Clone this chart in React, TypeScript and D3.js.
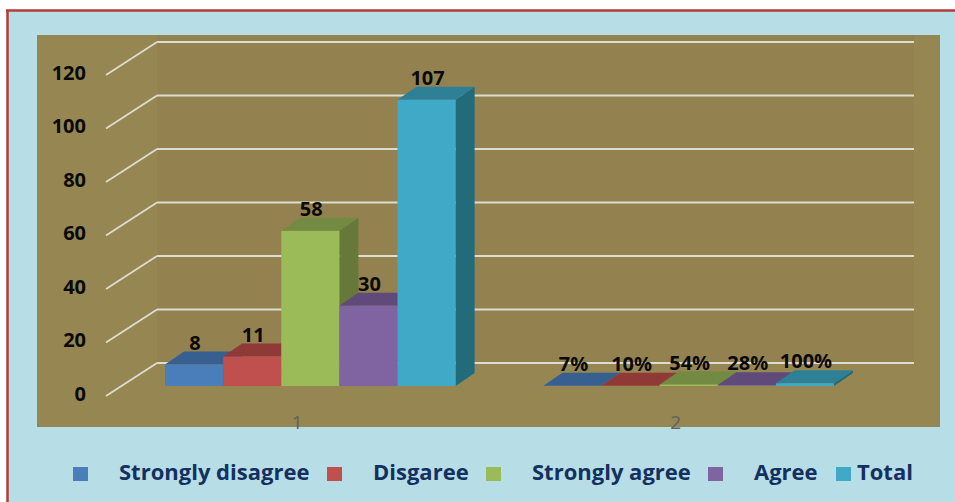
import React from "react";
import * as d3 from "d3";

const categories = ["1", "2"];
const seriesNames = ["Strongly disagree", "Disgaree", "Strongly agree", "Agree", "Total"];
const countValues = [8, 11, 58, 30, 107];
const percentValues = [7, 10, 54, 28, 100];
const yTicks = [0, 20, 40, 60, 80, 100, 120];

const frontColors = ["#4a7ebb", "#c0504d", "#9bbb59", "#8064a2", "#41a9c8"];
const topColors = ["#375f90", "#903a38", "#738a42", "#5f4a7a", "#2e8097"];
const sideColors = ["#335882", "#82342f", "#66793a", "#554270", "#226b7b"];

// percent group is plotted as fractions, that is why the bars are so flat
const groupValues = [countValues, percentValues.map((p) => p / 100)];
const groupLabels = [countValues.map(String), percentValues.map((p) => `${p}%`)];

// legend placed by hand, the gaps are uneven in the original
const legendSwatchX = [73, 327, 486, 708, 836];
const legendTextX = [119, 373, 532, 754, 857];

const depthX = 19;
const depthY = -13;

const App: React.FC = () => {
  const y = d3.scaleLinear().domain([0, 120]).range([386, 65]);
  const x0 = d3.scaleBand<string>().domain(categories).range([165, 834]).paddingInner(0.232).paddingOuter(0);
  const x1 = d3
    .scaleBand<string>()
    .domain(seriesNames)
    .range([0, x0.bandwidth()])
    .padding(0);

  return (
    <svg
      width={955}
      height={502}
      style={{ position: "absolute", left: 0, top: 0, fontFamily: "'Open Sans', sans-serif" }}
    >
      <rect x={0} y={0} width={955} height={502} fill="#ffffff" />
      <rect x={7} y={10} width={948} height={492} fill="#b7dde6" />
      <line x1={6} y1={10.5} x2={955} y2={10.5} stroke="#b23b37" strokeWidth={2.5} />
      <line x1={7.5} y1={10} x2={7.5} y2={502} stroke="#b23b37" strokeWidth={2.5} />

      {/* plot area */}
      <rect x={37} y={35} width={903} height={392} fill="#958652" />
      <rect x={157} y={35} width={757} height={328} fill="#93824f" />

      {/* gridlines: back wall + slanted side wall */}
      {yTicks.map((t) => (
        <g key={t} stroke="#dcdcd2" strokeWidth={2} fill="none">
          <line x1={157} x2={914} y1={y(t) - 23} y2={y(t) - 23} />
          <line x1={106} x2={157} y1={y(t) + 10} y2={y(t) - 23} strokeWidth={1.8} />
        </g>
      ))}
      {yTicks.map((t) => (
        <text
          key={t}
          x={86}
          y={y(t) + 14.5}
          textAnchor="end"
          fontSize={20}
          fontWeight={700}
          fill="#0a0a0a"
        >
          {t}
        </text>
      ))}

      {/* 3d bars */}
      {categories.map((c, gi) => (
        <g key={c}>
          {seriesNames.map((s, i) => {
            const left = (x0(c) ?? 0) + (x1(s) ?? 0);
            const right = left + x1.bandwidth();
            const top = y(groupValues[gi][i]);
            const base = y(0);
            return (
              <g key={s}>
                <polygon
                  points={`${right},${top} ${right + depthX},${top + depthY} ${right + depthX},${base + depthY} ${right},${base}`}
                  fill={sideColors[i]}
                />
                <polygon
                  points={`${left},${top} ${left + depthX},${top + depthY} ${right + depthX},${top + depthY} ${right},${top}`}
                  fill={topColors[i]}
                />
                <rect x={left} y={top} width={x1.bandwidth()} height={base - top} fill={frontColors[i]} />
              </g>
            );
          })}
        </g>
      ))}

      {/* value labels */}
      {categories.map((c, gi) =>
        seriesNames.map((s, i) => (
          <text
            key={`${c}-${s}`}
            x={(x0(c) ?? 0) + (x1(s) ?? 0) + x1.bandwidth() / 2 + 1}
            y={y(groupValues[gi][i]) - 15}
            textAnchor="middle"
            fontSize={20}
            fontWeight={700}
            fill="#0a0a0a"
          >
            {groupLabels[gi][i]}
          </text>
        ))
      )}

      {/* category labels, they sit left of the group centre */}
      {categories.map((c) => (
        <text
          key={c}
          x={(x0(c) ?? 0) + x0.bandwidth() / 2 - 13}
          y={429}
          textAnchor="middle"
          fontSize={19}
          fill="#5f6060"
        >
          {c}
        </text>
      ))}

      {/* legend */}
      {seriesNames.map((s, i) => (
        <g key={s}>
          <rect x={legendSwatchX[i]} y={467} width={15} height={14} fill={frontColors[i]} />
          <text x={legendTextX[i]} y={480} fontSize={22} fontWeight={700} fill="#14305f">
            {s}
          </text>
        </g>
      ))}
    </svg>
  );
};

export default App;
